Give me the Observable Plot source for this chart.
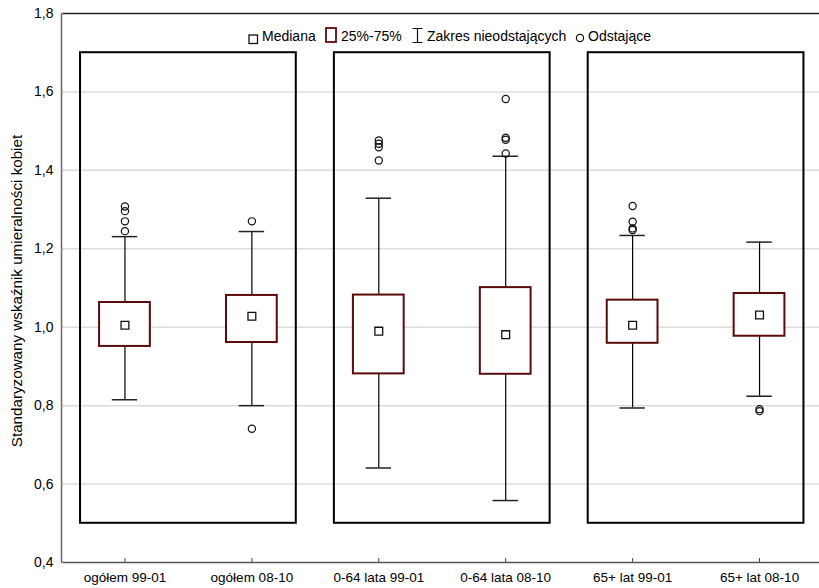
<!DOCTYPE html>
<html>
<head>
<meta charset="utf-8">
<script src="https://cdn.jsdelivr.net/npm/d3@7"></script>
<script src="https://cdn.jsdelivr.net/npm/@observablehq/plot@0.6"></script>
<style>
  html, body { margin: 0; padding: 0; background: #fff; }
  #wrap { position: relative; width: 819px; height: 588px; font-family: "Liberation Sans", Arial, sans-serif; color: #000; }
  .lg { position: absolute; font-size: 14px; line-height: 16px; white-space: nowrap; }
  .lgi { position: absolute; display: block; }
  #ylab { position: absolute; left: 16px; top: 291px; transform: translate(-50%, -50%) rotate(-90deg); font-size: 15.2px; white-space: nowrap; }
</style>
</head>
<body>
<div id="wrap"></div>
<script>
const categories = ["ogółem 99-01", "ogółem 08-10", "0-64 lata 99-01", "0-64 lata 08-10", "65+ lat 99-01", "65+ lat 08-10"];
const whiskerLow  = [0.815, 0.800, 0.641, 0.558, 0.794, 0.824];
const quart1      = [0.951, 0.961, 0.881, 0.880, 0.959, 0.977];
const medians     = [1.005, 1.028, 0.990, 0.981, 1.005, 1.031];
const quart3      = [1.063, 1.081, 1.082, 1.101, 1.069, 1.086];
const whiskerHigh = [1.231, 1.244, 1.329, 1.436, 1.234, 1.217];
const outliers = [
  [1.245, 1.270, 1.296, 1.308],
  [1.270, 0.741],
  [1.425, 1.459, 1.468, 1.476],
  [1.443, 1.478, 1.483, 1.582],
  [1.248, 1.252, 1.269, 1.309],
  [0.786, 0.791]
];
const panelGroups = [["ogółem 99-01", "ogółem 08-10"], ["0-64 lata 99-01", "0-64 lata 08-10"], ["65+ lat 99-01", "65+ lat 08-10"]];
const panelRange = [0.5, 1.7];
const yTicks = [0.4, 0.6, 0.8, 1.0, 1.2, 1.4, 1.6, 1.8];
const gridTicks = [0.6, 0.8, 1.0, 1.2, 1.4, 1.6];
const yTitle = "Standaryzowany wskaźnik umieralności kobiet";
const legendLabels = ["Mediana", "25%-75%", "Zakres nieodstających", "Odstające"];

const idx = c => categories.indexOf(c);
const boxes = categories.map((c, i) => ({i, c, lo: whiskerLow[i], q1: quart1[i], med: medians[i], q3: quart3[i], hi: whiskerHigh[i]}));
const outPts = outliers.flatMap((vals, i) => vals.map(v => ({i, v})));
const panels = panelGroups.map(g => ({a: idx(g[0]), b: idx(g[g.length - 1])}));
const comma = d => d3.format(".1f")(d).replace(".", ",");

const maroon = "#5a0a0a";

const chart = Plot.plot({
  width: 819,
  height: 588,
  marginLeft: 61,
  marginRight: -3.5,
  marginTop: 13,
  marginBottom: 26,
  style: {fontFamily: "Liberation Sans, Arial, sans-serif", fontSize: "14px", color: "#000", background: "transparent"},
  x: {domain: [-0.5, 5.5]},
  y: {domain: [0.4, 1.8]},
  marks: [
    Plot.ruleY(gridTicks, {stroke: "#dcdcdc", strokeWidth: 1.5}),
    Plot.rect(panels, {x1: d => d.a - 0.35, x2: d => d.b + 0.35, y1: panelRange[0], y2: panelRange[1], fill: "none", stroke: "#000", strokeWidth: 2}),
    Plot.ruleX(boxes, {x: "i", y1: "lo", y2: "q1", stroke: "#000", strokeWidth: 1.2}),
    Plot.ruleX(boxes, {x: "i", y1: "q3", y2: "hi", stroke: "#000", strokeWidth: 1.2}),
    Plot.ruleY(boxes, {y: "lo", x1: d => d.i - 0.1, x2: d => d.i + 0.1, stroke: "#222", strokeWidth: 1.5}),
    Plot.ruleY(boxes, {y: "hi", x1: d => d.i - 0.1, x2: d => d.i + 0.1, stroke: "#222", strokeWidth: 1.5}),
    Plot.rect(boxes, {x1: d => d.i - 0.2, x2: d => d.i + 0.2, y1: "q1", y2: "q3", fill: "#fff", stroke: maroon, strokeWidth: 2}),
    Plot.dot(boxes, {x: "i", y: "med", symbol: "square", r: 4.4, fill: "#fff", stroke: "#111", strokeWidth: 1.3}),
    Plot.dot(outPts, {x: "i", y: "v", r: 3.6, fill: "none", stroke: "#111", strokeWidth: 1.2}),
    Plot.ruleY([1.8], {stroke: "#222", strokeWidth: 1.5}),
    Plot.ruleY([0.4], {stroke: "#555", strokeWidth: 1.5}),
    Plot.ruleX([-0.5], {stroke: "#666", strokeWidth: 1.5}),
    Plot.ruleX(boxes, {x: "i", y1: 0.4, y2: 0.41, stroke: "#444", strokeWidth: 1}),
    Plot.ruleY(yTicks, {x1: -0.5, x2: -0.485, stroke: "#999", strokeWidth: 1}),
    Plot.axisY({ticks: yTicks, tickFormat: comma, tickSize: 0, tickPadding: 8, fontSize: 14, label: null}),
    Plot.axisX({ticks: d3.range(categories.length), tickFormat: i => categories[i], tickSize: 0, tickPadding: 10, fontSize: 13.5, label: null})
  ]
});
const wrap = document.getElementById("wrap");
wrap.appendChild(chart);

const yl = document.createElement("div");
yl.id = "ylab";
yl.textContent = yTitle;
wrap.appendChild(yl);

// Legend (HTML overlay)
const legendIcons = [
  {left: 248, top: 31, svg: '<svg width="11" height="11"><rect x="1" y="1" width="8.5" height="8.5" fill="#fff" stroke="#111" stroke-width="1.3"/></svg>'},
  {left: 325, top: 27, svg: '<svg width="13" height="17"><rect x="1" y="1" width="10" height="14" fill="#fff" stroke="' + maroon + '" stroke-width="1.8"/></svg>'},
  {left: 411, top: 27, svg: '<svg width="13" height="17"><path d="M1.5,1.5H11.5M6.5,1.5V15.5M1.5,15.5H11.5" fill="none" stroke="#111" stroke-width="1.2"/></svg>'},
  {left: 574, top: 30, svg: '<svg width="12" height="12"><circle cx="6" cy="6" r="3.6" fill="none" stroke="#111" stroke-width="1.2"/></svg>'}
];
const legendTextLeft = [262, 341, 427, 588];
legendLabels.forEach((t, k) => {
  const ic = document.createElement("div");
  ic.className = "lgi";
  ic.style.left = legendIcons[k].left + "px";
  ic.style.top = legendIcons[k].top + "px";
  ic.innerHTML = legendIcons[k].svg;
  wrap.appendChild(ic);
  const tx = document.createElement("div");
  tx.className = "lg";
  tx.style.left = legendTextLeft[k] + "px";
  tx.style.top = "28px";
  tx.textContent = t;
  wrap.appendChild(tx);
});
</script>
</body>
</html>
